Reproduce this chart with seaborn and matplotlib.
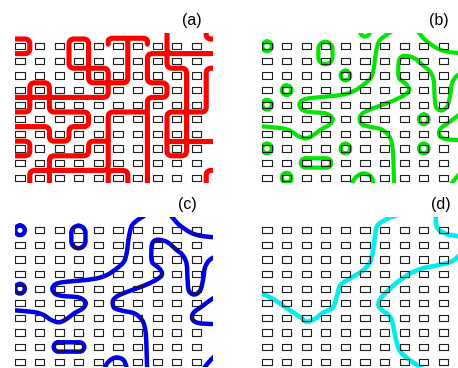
import numpy as np
import pandas as pd
import matplotlib
matplotlib.use("Agg")
import matplotlib.pyplot as plt
from matplotlib.path import Path
from matplotlib.patches import PathPatch
import seaborn as sns

# ---------------------------------------------------------------
# Lattice of sites (column index u, row index v; row 0 at the top)
# ---------------------------------------------------------------
site_cols = list(range(10))
site_rows = list(range(10))

panel_labels = ["(a)", "(b)", "(c)", "(d)"]
line_colors = ["#ff0000", "#00e600", "#0000e0", "#00eeee"]

# (a) loops running along the gaps of the lattice (half-integer positions)
red_lines = [
    [(-0.9, -0.5), (0.5, -0.5), (0.5, 0.5), (-0.9, 0.5)],
    [(-0.9, 3.5), (4.5, 3.5), (4.5, 1.5), (2.5, 1.5), (2.5, -0.5), (3.5, -0.5),
     (3.5, 2.5), (5.5, 2.5), (5.5, -0.5)],
    [(4.5, -0.15), (4.5, -0.55), (6.5, -0.55), (6.5, -0.15)],
    [(7.5, -1.5), (7.5, 0.5), (10.3, 0.5)],
    [(9.5, -1.5), (9.5, -0.5), (10.3, -0.5)],
    [(7.5, 0.5), (6.5, 0.5), (6.5, 2.5), (7.5, 2.5), (7.5, 3.5), (6.5, 3.5), (6.5, 10.3)],
    [(7.5, 0.5), (7.5, 1.5), (8.5, 1.5), (8.5, 7.5), (7.5, 7.5), (7.5, 4.5), (9.5, 4.5),
     (9.5, 1.5), (10.3, 1.5)],
    [(7.5, 6.5), (10.3, 6.5)],
    [(-0.9, 4.5), (0.5, 4.5), (0.5, 2.5), (1.5, 2.5), (1.5, 4.5), (3.5, 4.5), (3.5, 5.5),
     (2.5, 5.5), (2.5, 6.5), (1.5, 6.5), (1.5, 5.5), (-0.9, 5.5)],
    [(-0.9, 6.5), (0.5, 6.5), (0.5, 7.5), (-0.9, 7.5)],
    [(6.5, 4.5), (4.5, 4.5), (4.5, 8.5), (0.5, 8.5), (0.5, 10.3)],
    [(1.5, 10.3), (1.5, 7.5), (3.5, 7.5), (3.5, 6.5), (4.5, 6.5)],
    [(4.5, 10.3), (4.5, 8.5), (5.5, 8.5), (5.5, 10.3)],
    [(9.5, 10.3), (9.5, 8.5), (10.3, 8.5)],
]

# smooth contour lines shared by (b) and (c)
contour_west = [(6.35, -1.0), (6.0, -0.7), (5.7, -0.3), (5.55, 0.5), (5.45, 1.5), (5.3, 2.15),
                (4.95, 2.6), (4.45, 3.05), (3.9, 3.3), (3.0, 3.45), (2.2, 3.55), (1.8, 3.7),
                (1.65, 4.0), (1.8, 4.35), (2.2, 4.5), (3.0, 4.6), (3.35, 4.95), (3.2, 5.35),
                (2.75, 5.7), (2.35, 6.1), (2.0, 6.3), (1.6, 6.15), (1.2, 5.8), (0.7, 5.6),
                (-0.6, 5.45)]
contour_northeast = [(7.7, -1.0), (8.1, -0.4), (8.7, 0.15), (9.3, 0.4), (10.3, 0.5)]
contour_east = [(10.3, 1.7), (9.75, 1.95), (9.45, 2.5), (9.35, 3.3), (9.2, 4.1), (8.9, 4.4),
                (8.62, 4.15), (8.55, 3.4), (8.5, 2.3), (8.3, 1.7), (7.95, 1.3), (7.5, 0.8),
                (7.0, 0.65), (6.75, 0.9), (6.7, 1.6), (6.75, 2.2), (7.1, 2.6), (7.25, 3.0),
                (7.0, 3.35), (6.4, 3.75), (5.7, 4.1), (5.05, 4.45), (4.75, 4.8), (4.8, 5.3),
                (5.2, 5.5), (5.85, 5.7), (6.25, 6.2), (6.4, 6.9), (6.45, 7.9), (6.5, 10.3)]
contour_edge = [(10.3, 4.4), (9.8, 4.7), (9.3, 5.2), (8.85, 5.65), (8.8, 6.1), (9.1, 6.35),
                (9.8, 6.42), (10.3, 6.42)]
contour_south = [(4.25, 9.8), (4.45, 9.1), (4.85, 8.72), (5.25, 8.85), (5.42, 9.3), (5.45, 9.8)]
contour_corner = [(10.1, 8.45), (9.75, 8.85), (9.35, 9.5)]

# closed loops (u0, u1, v0, v1) around single sites and pairs
loops_shared = [(-0.245, 0.245, -0.33, 0.33), (2.62, 3.34, -0.31, 1.23),
                (-0.245, 0.245, 3.67, 4.33), (1.72, 3.28, 7.67, 8.31)]
loops_small = [(3.755, 4.245, 1.67, 2.33), (0.755, 1.245, 2.67, 3.33),
               (7.755, 8.245, 4.67, 5.33), (3.755, 4.245, 6.67, 7.33),
               (-0.245, 0.245, 6.67, 7.33), (7.755, 8.245, 6.67, 7.33),
               (0.755, 1.245, 8.67, 9.33), (4.755, 5.245, -1.33, -0.67)]

# (d) contour lines
cyan_west = [(-0.6, 4.1), (0.3, 4.7), (0.8, 5.15), (1.25, 5.55), (1.7, 5.95), (2.0, 6.25),
             (2.4, 6.1), (2.85, 5.65), (3.35, 5.3), (3.55, 4.6), (3.75, 3.75), (4.3, 3.25),
             (4.9, 2.75), (5.25, 2.2), (5.4, 1.5), (5.5, 0.5), (5.65, -0.35), (6.25, -0.85),
             (6.6, -1.0)]
cyan_northeast = [(8.6, -1.1), (8.65, -0.3), (8.85, 0.05), (9.3, 0.3), (10.3, 0.5)]
cyan_east = [(10.3, 1.3), (9.8, 1.75), (9.4, 2.15), (8.7, 2.4), (7.9, 2.62), (7.25, 3.0),
             (6.65, 3.55), (6.15, 4.15), (5.75, 4.75), (5.7, 5.2), (5.95, 5.55), (6.3, 5.95),
             (6.45, 6.6), (6.6, 7.6), (6.8, 8.3), (7.3, 8.9), (7.9, 9.45), (8.3, 9.9)]

# ---------------------------------------------------------------
# path builders
# ---------------------------------------------------------------
RU, RV = 0.26, 0.34  # corner radius of the lattice loops (u and v units)


def lattice_path(pts):
    p = np.asarray(pts, float)
    verts, codes = [p[0]], [Path.MOVETO]
    for i in range(1, len(p) - 1):
        d1, d2 = p[i] - p[i - 1], p[i + 1] - p[i]
        s1, s2 = np.sign(d1), np.sign(d2)
        r1 = np.minimum(np.abs(d1) / 2, [RU, RV])
        r2 = np.minimum(np.abs(d2) / 2, [RU, RV])
        a = p[i] - s1 * r1
        b = p[i] + s2 * r2
        verts += [a, p[i], b]
        codes += [Path.LINETO, Path.CURVE3, Path.CURVE3]
    verts.append(p[-1])
    codes.append(Path.LINETO)
    return Path(verts, codes)


def smooth_path(pts):
    p = np.asarray(pts, float)
    ext = np.vstack([2 * p[0] - p[1], p, 2 * p[-1] - p[-2]])
    verts, codes = [p[0]], [Path.MOVETO]
    for i in range(len(p) - 1):
        p0, p1, p2, p3 = ext[i], ext[i + 1], ext[i + 2], ext[i + 3]
        verts += [p1 + (p2 - p0) / 6, p2 - (p3 - p1) / 6, p2]
        codes += [Path.CURVE4] * 3
    return Path(verts, codes)


def loop_path(u0, u1, v0, v1):
    hu, hv = (u1 - u0) / 2, (v1 - v0) / 2
    r = min(hu * 19.6, hv * 14.6)
    ru, rv = r / 19.6, r / 14.6
    k = 0.5523
    verts = [(u0 + ru, v0), (u1 - ru, v0),
             (u1 - ru + k * ru, v0), (u1, v0 + rv - k * rv), (u1, v0 + rv),
             (u1, v1 - rv),
             (u1, v1 - rv + k * rv), (u1 - ru + k * ru, v1), (u1 - ru, v1),
             (u0 + ru, v1),
             (u0 + ru - k * ru, v1), (u0, v1 - rv + k * rv), (u0, v1 - rv),
             (u0, v0 + rv),
             (u0, v0 + rv - k * rv), (u0 + ru - k * ru, v0), (u0 + ru, v0)]
    codes = ([Path.MOVETO, Path.LINETO] + [Path.CURVE4] * 3 + [Path.LINETO]
             + [Path.CURVE4] * 3 + [Path.LINETO] + [Path.CURVE4] * 3 + [Path.LINETO]
             + [Path.CURVE4] * 3)
    return Path(verts, codes)


# ---------------------------------------------------------------
# figure
# ---------------------------------------------------------------
sns.set_style("white")
plt.rcParams["font.family"] = ["Liberation Sans", "DejaVu Sans"]

W, H = 458, 368
fig = plt.figure(figsize=(W / 100, H / 100), dpi=100)

PX_U, PX_V = 19.6, 14.6
U_LIM = (-0.25, 9.85)
V_LIM = (9.36, -0.92)
box_w = (U_LIM[1] - U_LIM[0]) * PX_U
box_h = (V_LIM[0] - V_LIM[1]) * PX_V

# pixel position of site (0,0) in each panel
origins = [(20, 46.3), (267, 46.3), (20, 230.3), (267, 230.3)]
label_pos = [(191.5, 20.5), (439, 20.5), (187, 204.5), (440.5, 204.5)]

sites = pd.DataFrame([(u, v) for v in site_rows for u in site_cols], columns=["u", "v"])
site_marker = Path([(-0.5, -0.34), (0.5, -0.34), (0.5, 0.34), (-0.5, 0.34), (-0.5, -0.34)],
                   [Path.MOVETO, Path.LINETO, Path.LINETO, Path.LINETO, Path.CLOSEPOLY])

contour_lines = (contour_west, contour_northeast, contour_east, contour_edge,
                 contour_south, contour_corner)
panel_paths = [
    ([lattice_path(p) for p in red_lines], 3.7),
    ([smooth_path(p) for p in contour_lines]
     + [loop_path(*l) for l in loops_shared + loops_small], 3.0),
    ([smooth_path(p) for p in contour_lines]
     + [loop_path(*l) for l in loops_shared], 3.2),
    ([smooth_path(p) for p in (cyan_west, cyan_northeast, cyan_east)], 3.3),
]

for idx, ((ox, oy), (paths, lw)) in enumerate(zip(origins, panel_paths)):
    left_px = ox + U_LIM[0] * PX_U
    top_px = oy + V_LIM[1] * PX_V
    ax = fig.add_axes([left_px / W, 1 - (top_px + box_h) / H, box_w / W, box_h / H])
    ax.set_xlim(*U_LIM)
    ax.set_ylim(*V_LIM)
    ax.axis("off")

    for path in paths:
        ax.add_patch(PathPatch(path, facecolor="none", edgecolor=line_colors[idx], lw=lw,
                               capstyle="round", joinstyle="round", zorder=2))

    sns.scatterplot(data=sites, x="u", y="v", marker=site_marker, s=44, ax=ax,
                    legend=False, linewidth=0.8, zorder=3)
    coll = ax.collections[-1]
    coll.set_facecolor("none")
    coll.set_edgecolor("#1e1e1e")
    ax.set_xlim(*U_LIM)
    ax.set_ylim(*V_LIM)

    lx, ly = label_pos[idx]
    fig.text(lx / W, 1 - ly / H, panel_labels[idx], ha="center", va="center",
             fontsize=11.5, color="black")

fig.savefig("out.png", dpi=100)
